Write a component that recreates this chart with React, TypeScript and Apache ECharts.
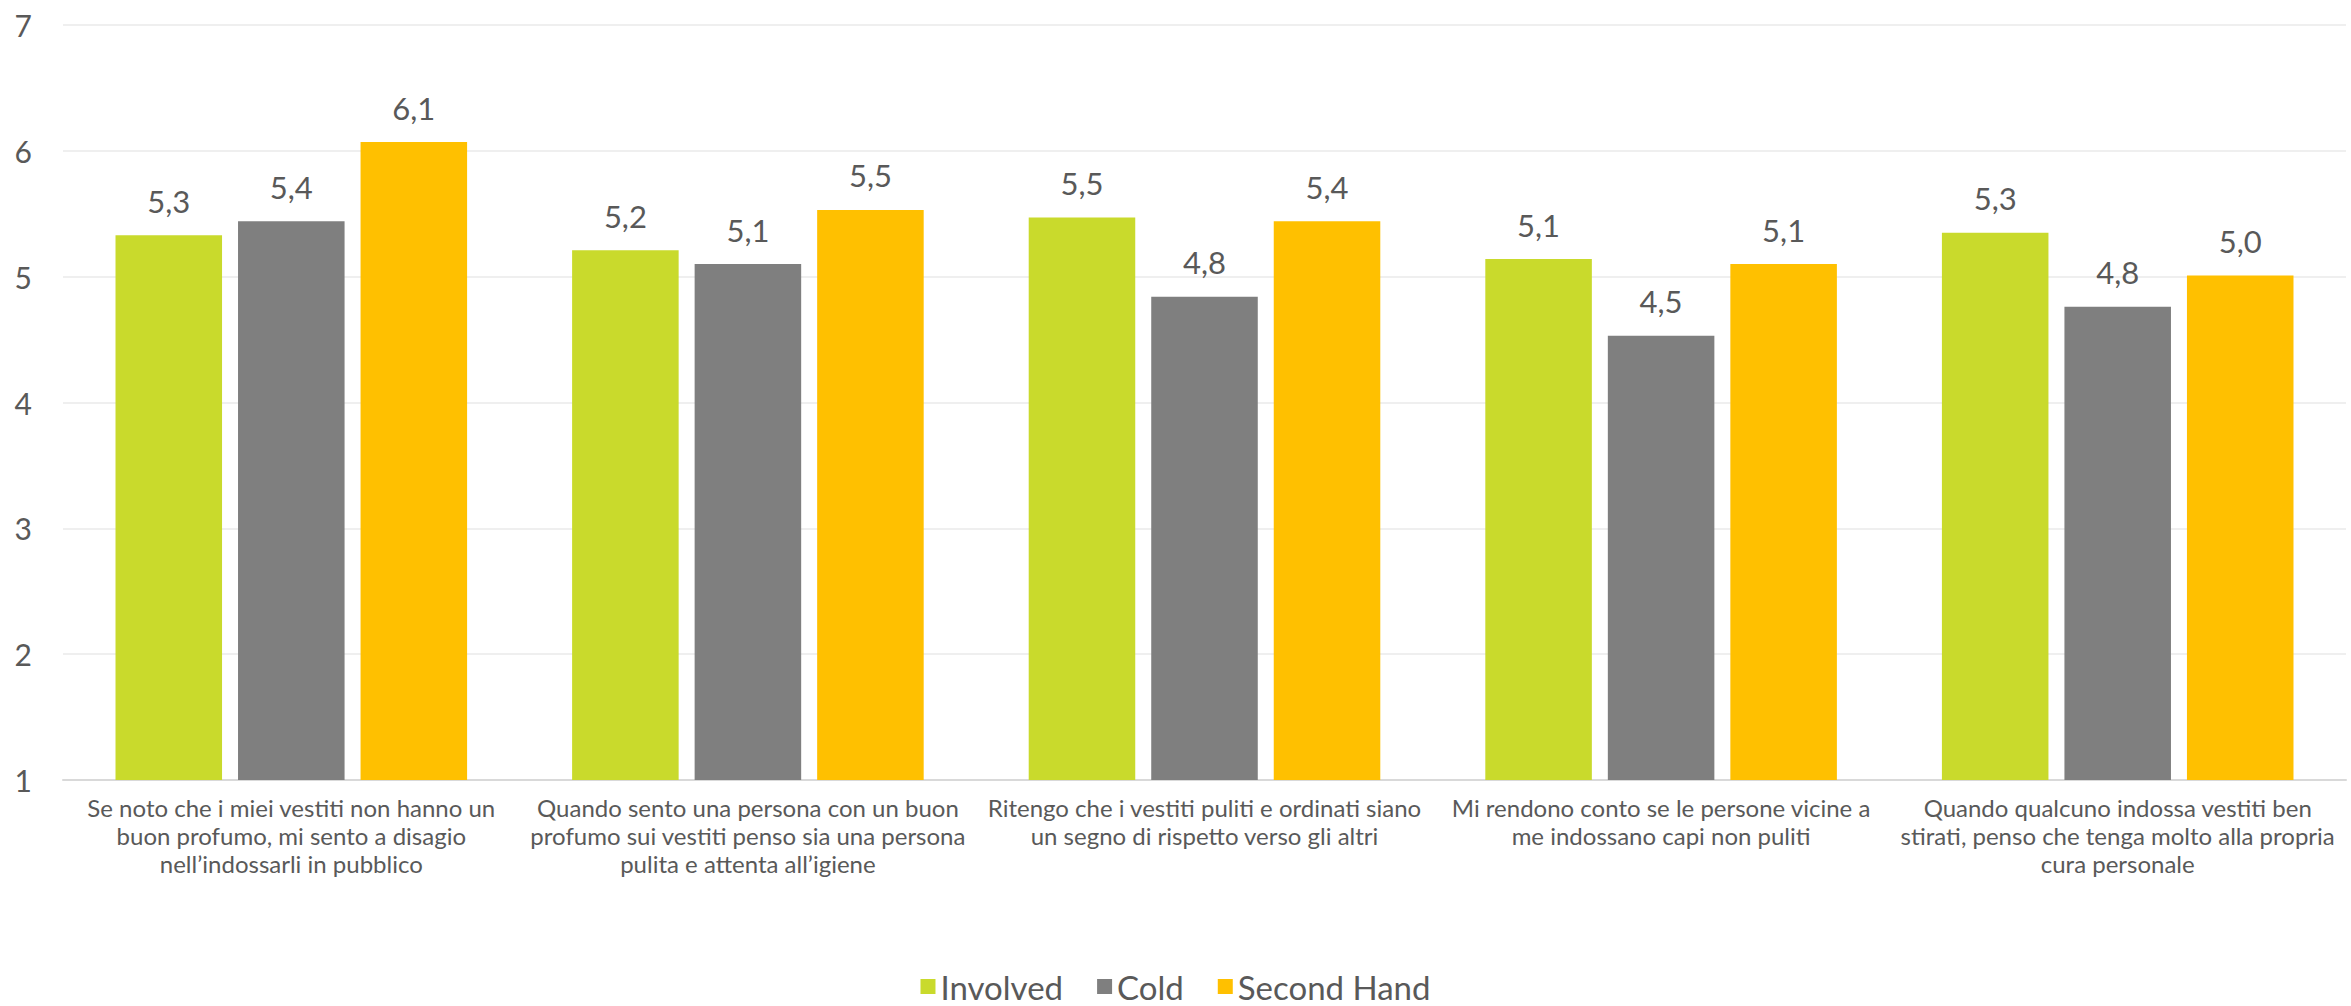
import React, { useEffect, useRef } from "react";
import * as echarts from "echarts";

const categories = [
  "Se noto che i miei vestiti non hanno un\nbuon profumo, mi sento a disagio\nnell’indossarli in pubblico",
  "Quando sento una persona con un buon\nprofumo sui vestiti penso sia una persona\npulita e attenta all’igiene",
  "Ritengo che i vestiti puliti e ordinati siano\nun segno di rispetto verso gli altri",
  "Mi rendono conto se le persone vicine a\nme indossano capi non puliti",
  "Quando qualcuno indossa vestiti ben\nstirati, penso che tenga molto alla propria\ncura personale",
];

const involved = [5.33, 5.21, 5.47, 5.14, 5.35];
const cold = [5.44, 5.1, 4.84, 4.53, 4.76];
const secondHand = [6.07, 5.53, 5.44, 5.1, 5.01];

const seriesNames = ["Involved", "Cold", "Second Hand"];
const colors = ["#C9DA2C", "#7F7F7F", "#FFC000"];

const FONT = "Lato";
const TEXT = "#595959";

export default function App() {
  const ref = useRef<HTMLDivElement>(null);
  useEffect(() => {
    document.body.style.margin = "0";
    const chart = echarts.init(ref.current!, null, { renderer: "svg" });
    const data = [involved, cold, secondHand];
    chart.setOption({
      animation: false,
      textStyle: { fontFamily: FONT },
      grid: { left: 63, right: 5, top: 25, bottom: 226, containLabel: false },
      legend: {
        bottom: -2,
        left: "center",
        icon: "rect",
        itemWidth: 15,
        itemHeight: 15,
        itemGap: 34,
        textStyle: { color: TEXT, fontSize: 33, fontFamily: FONT },
        data: seriesNames,
      },
      xAxis: {
        type: "category",
        data: categories,
        axisTick: { show: false },
        axisLine: { lineStyle: { color: "#D9D9D9", width: 2 } },
        axisLabel: {
          color: TEXT,
          fontSize: 24,
          lineHeight: 28,
          margin: 13,
          interval: 0,
          fontFamily: FONT,
        },
      },
      yAxis: {
        type: "value",
        min: 1,
        max: 7,
        interval: 1,
        axisLine: { show: false },
        axisTick: { show: false },
        splitLine: { lineStyle: { color: "#EFEFEF", width: 2 } },
        axisLabel: { color: TEXT, fontSize: 30, margin: 31, fontFamily: FONT },
      },
      series: seriesNames.map((name, i) => ({
        name,
        type: "bar",
        data: data[i],
        barGap: "15%",
        barCategoryGap: "23%",
        itemStyle: { color: colors[i] },
        label: {
          show: true,
          position: "top",
          distance: 19,
          color: TEXT,
          fontSize: 31,
          fontFamily: FONT,
          formatter: (p: any) => p.value.toFixed(1).replace(".", ","),
        },
      })),
    });
    return () => chart.dispose();
  }, []);
  return <div ref={ref} style={{ width: 2351, height: 1006 }} />;
}
